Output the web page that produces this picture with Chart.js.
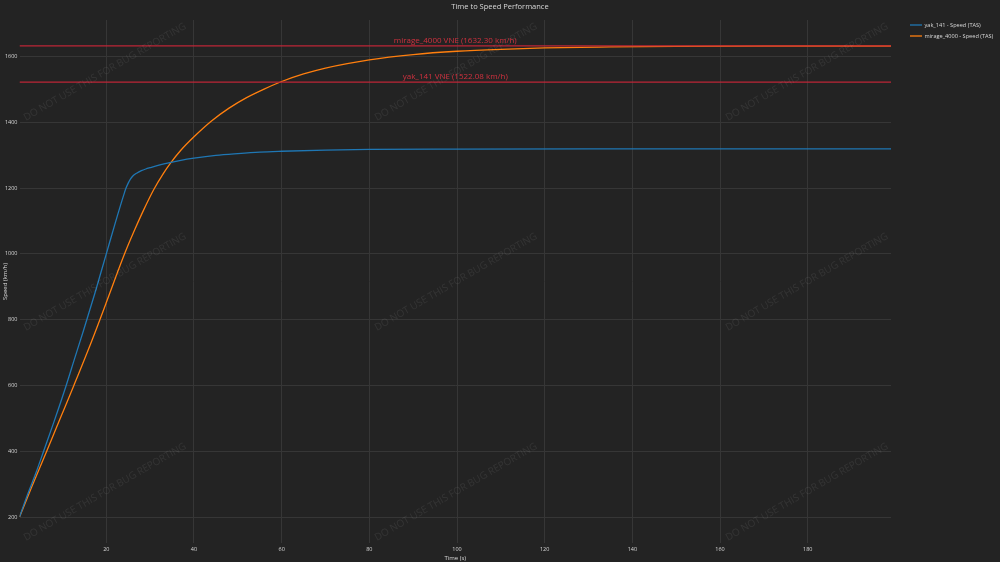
<!DOCTYPE html>
<html lang="en">
<head>
    <meta charset="UTF-8">
    <title>Time to Speed Performance</title>
    <script src="https://cdn.jsdelivr.net/npm/chart.js"></script>
    <style>
        html, body {
            margin: 0;
            padding: 0;
            background-color: #232323;
        }
        .chart-box {
            width: 1000px;
            height: 562px;
            position: relative;
        }
    </style>
</head>
<body>
    <div class="chart-box">
        <canvas id="speedChart"></canvas>
    </div>

    <script>
        // data
        const yakTime = [0.2, 2, 4, 5.7, 8, 10.85, 12.8, 14.8, 17.5, 20, 22, 24, 24.5, 25, 25.5, 26, 27, 28, 29, 30, 32, 34.5, 37, 40, 45, 50, 55, 60, 70, 80, 100, 130, 160, 199];
        const yakSpeed = [200, 267, 336, 400, 487, 600, 683, 767, 885, 1000, 1092, 1180, 1200, 1215, 1227, 1236, 1246, 1253, 1258, 1262, 1269.5, 1277.5, 1284.5, 1291, 1299.5, 1305, 1309.5, 1312, 1315.5, 1317.5, 1318.5, 1319, 1319, 1319];

        const mirageTime = [0.2, 3, 6.4, 9.5, 12.6, 16.7, 20, 22.3, 24.4, 26.5, 28.5, 30.8, 33, 34.6, 37, 40, 44, 48, 52, 56, 60, 65, 70, 80, 90, 100, 110, 120, 135, 150, 170, 199];
        const mirageSpeed = [200, 292, 400, 500, 600, 736, 852, 935, 1008, 1074, 1133, 1195, 1244, 1275, 1315, 1356, 1404, 1443, 1475, 1501, 1524, 1547, 1565, 1590, 1606, 1616, 1622, 1626, 1629, 1631, 1632, 1632];

        const seriesNames = ['yak_141 - Speed (TAS)', 'mirage_4000 - Speed (TAS)'];
        const vneValues = [1632.30, 1522.08];
        const vneLabels = ['mirage_4000 VNE (1632.30 km/h)', 'yak_141 VNE (1522.08 km/h)'];

        const xTicks = [20, 40, 60, 80, 100, 120, 140, 160, 180];
        const yTicks = [200, 400, 600, 800, 1000, 1200, 1400, 1600];

        const X_MIN = 0.2, X_MAX = 199;
        const Y_MIN = 121, Y_MAX = 1711;

        const FONT = '"Open Sans", sans-serif';
        const TEXT = '#d8d8d8';
        const GRID = '#363636';
        const VNE_COLOR = '#bd2637';
        const colors = ['#1f77b4', '#ff7f0e'];

        function toPoints(xs, ys) {
            return xs.map((x, i) => ({ x: x, y: ys[i] }));
        }

        const datasets = [
            {
                label: seriesNames[0],
                data: toPoints(yakTime, yakSpeed),
                borderColor: colors[0],
                borderWidth: 1.3,
                pointRadius: 0,
                cubicInterpolationMode: 'monotone'
            },
            {
                label: seriesNames[1],
                data: toPoints(mirageTime, mirageSpeed),
                borderColor: colors[1],
                borderWidth: 1.3,
                pointRadius: 0,
                cubicInterpolationMode: 'monotone'
            }
        ];

        // VNE reference lines
        vneValues.forEach((v, i) => {
            datasets.push({
                label: vneLabels[i],
                data: [{ x: X_MIN, y: v }, { x: X_MAX, y: v }],
                borderColor: VNE_COLOR,
                borderWidth: 1.4,
                pointRadius: 0,
                order: -1
            });
        });

        // title, legend, VNE labels and watermarks
        const decorations = {
            id: 'decorations',
            afterDraw(chart) {
                const ctx = chart.ctx;
                const area = chart.chartArea;
                const yScale = chart.scales.y;
                ctx.save();

                // watermarks
                ctx.fillStyle = 'rgba(255,255,255,0.08)';
                ctx.font = '10px ' + FONT;
                ctx.textAlign = 'center';
                ctx.textBaseline = 'middle';
                [105, 456, 807].forEach(cx => {
                    [72, 282, 492].forEach(cy => {
                        ctx.save();
                        ctx.translate(cx, cy);
                        ctx.rotate(-30 * Math.PI / 180);
                        ctx.fillText('DO NOT USE THIS FOR BUG REPORTING', 0, 0);
                        ctx.restore();
                    });
                });

                // VNE labels
                ctx.fillStyle = '#d2313f';
                ctx.font = '8px ' + FONT;
                ctx.textBaseline = 'bottom';
                const midX = (area.left + area.right) / 2;
                vneValues.forEach((v, i) => {
                    ctx.fillText(vneLabels[i], midX, yScale.getPixelForValue(v) - 1);
                });

                // title
                ctx.fillStyle = TEXT;
                ctx.font = '7.5px ' + FONT;
                ctx.textBaseline = 'middle';
                ctx.fillText('Time to Speed Performance', 500, 7);

                // legend
                ctx.textAlign = 'left';
                ctx.font = '5.6px ' + FONT;
                seriesNames.forEach((name, i) => {
                    const ly = 25 + i * 11;
                    ctx.strokeStyle = colors[i];
                    ctx.lineWidth = 1.3;
                    ctx.beginPath();
                    ctx.moveTo(910, ly);
                    ctx.lineTo(922, ly);
                    ctx.stroke();
                    ctx.fillStyle = TEXT;
                    ctx.fillText(name, 924.5, ly);
                });

                ctx.restore();
            }
        };

        const ctx = document.getElementById('speedChart').getContext('2d');
        const speedChart = new Chart(ctx, {
            type: 'line',
            data: { datasets: datasets },
            options: {
                responsive: true,
                maintainAspectRatio: false,
                animation: false,
                layout: { padding: { top: 20, right: 109, left: 0, bottom: 0 } },
                plugins: {
                    legend: { display: false },
                    title: { display: false },
                    tooltip: { enabled: false }
                },
                scales: {
                    x: {
                        type: 'linear',
                        min: X_MIN,
                        max: X_MAX,
                        afterBuildTicks: s => { s.ticks = xTicks.map(v => ({ value: v })); },
                        afterFit: s => { s.height = 19; },
                        grid: { color: GRID, drawTicks: false },
                        border: { display: false },
                        ticks: {
                            color: TEXT,
                            font: { family: FONT, size: 5.5 },
                            padding: 3,
                            maxRotation: 0,
                            callback: v => String(v)
                        },
                        title: {
                            display: true,
                            text: 'Time (s)',
                            color: TEXT,
                            font: { family: FONT, size: 6 },
                            padding: 0
                        }
                    },
                    y: {
                        type: 'linear',
                        min: Y_MIN,
                        max: Y_MAX,
                        afterBuildTicks: s => { s.ticks = yTicks.map(v => ({ value: v })); },
                        afterFit: s => { s.width = 19.5; },
                        grid: { color: GRID, drawTicks: false },
                        border: { display: false },
                        ticks: {
                            color: TEXT,
                            font: { family: FONT, size: 5.5 },
                            padding: 2,
                            callback: v => String(v)
                        },
                        title: {
                            display: true,
                            text: 'Speed (km/h)',
                            color: TEXT,
                            font: { family: FONT, size: 6 },
                            padding: { top: 2, bottom: 0 }
                        }
                    }
                }
            },
            plugins: [decorations]
        });
    </script>
</body>
</html>
